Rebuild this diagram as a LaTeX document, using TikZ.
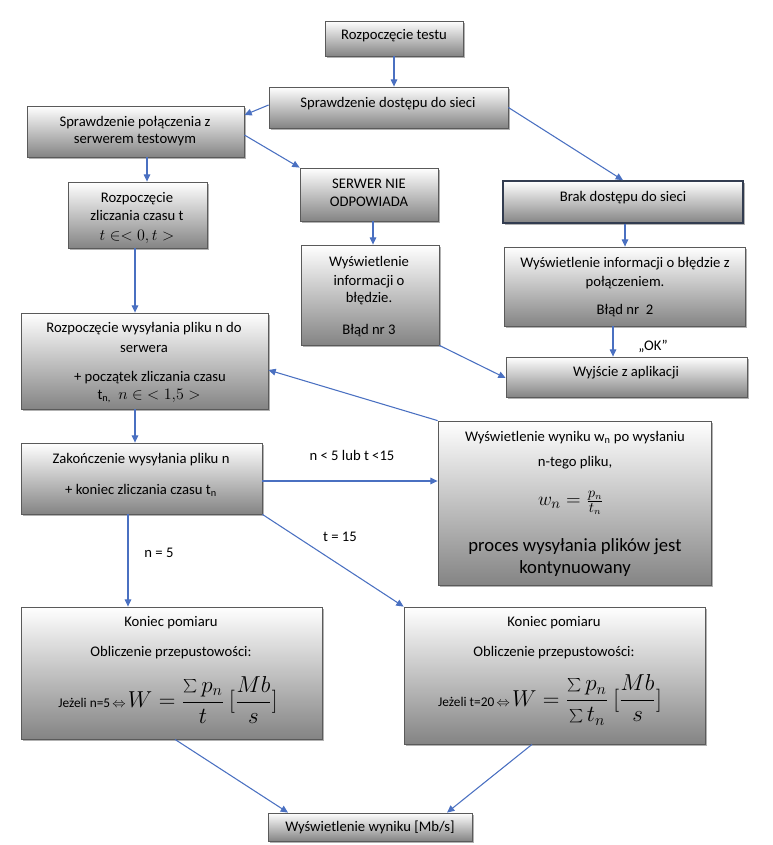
\documentclass[tikz,border=0pt]{standalone}
\usepackage{fontspec}
\setmainfont{Carlito}
\usetikzlibrary{arrows.meta,shadows,fit}
\definecolor{arrowblue}{RGB}{74,112,193}
\definecolor{boxline}{RGB}{90,90,90}
\definecolor{boxbottom}{RGB}{132,132,132}
\definecolor{boxmid}{RGB}{212,212,212}
\definecolor{darkline}{RGB}{50,60,80}
\newcommand{\mytext}[4]{\node[txt] (#1) at (#2,#3) {#4};}
\begin{document}
\begin{tikzpicture}[x=0.75pt,y=-0.75pt,
  box/.style={draw=boxline, line width=0.6pt, top color=white, middle color=boxmid,
    bottom color=boxbottom, inner sep=0pt,
    drop shadow={shadow xshift=1.2pt, shadow yshift=-1.2pt, fill=black, opacity=0.3}},
  darkbox/.style={box, draw=darkline, line width=1.1pt},
  txt/.style={font=\fontsize{11}{13}\selectfont, inner sep=0pt, text height=7pt, text depth=0pt},
  bigtxt/.style={font=\fontsize{14}{16}\selectfont, inner sep=0pt, text height=9pt, text depth=0pt},
  mtxt/.style={inner sep=0pt},
  arr/.style={draw=arrowblue, line width=0.8pt, -{Triangle[length=5.5pt,width=5pt]}}
]
\useasboundingbox (0,0) rectangle (772,845);

% boxes
\node[box, fit={(325,21) (463,56)}] (b1) {};
\node[box, fit={(269,87) (508,128)}] (b2) {};
\node[box, fit={(27,106) (244,157)}] (b3) {};
\node[box, fit={(68,182) (207,248)}] (b4) {};
\node[box, fit={(300,168) (438,221)}] (b5) {};
\node[darkbox, fit={(503,181) (743,223)}] (b6) {};
\node[box, fit={(301,245) (439,345)}] (b7) {};
\node[box, fit={(504,247) (745,326)}] (b8) {};
\node[box, fit={(506,357) (747,397)}] (b9) {};
\node[box, fit={(21,313) (268,409)}] (b10) {};
\node[box, fit={(21,443) (262,514)}] (b11) {};
\node[box, fit={(438,421) (711,585)}] (b12) {};
\node[box, fit={(21,607) (322,739)}] (b13) {};
\node[box, fit={(404,607) (705,744)}] (b14) {};
\node[box, fit={(268,813) (472,841)}] (b15) {};

% texts
\mytext{t1}{394}{35}{Rozpoczęcie testu}
\mytext{t2}{388}{103}{Sprawdzenie dostępu do sieci}
\mytext{t3a}{135}{122}{Sprawdzenie połączenia z}
\mytext{t3b}{135}{139}{serwerem testowym}
\mytext{t4a}{137}{198}{Rozpoczęcie}
\mytext{t4b}{137}{216}{zliczania czasu t}
\node[mtxt, font=\fontsize{11.5}{13}\selectfont] (t4c) at (137,237) {$t \in < 0, t >$};
\mytext{t5a}{369}{184}{SERWER NIE}
\mytext{t5b}{369}{202}{ODPOWIADA}
\mytext{t6}{623}{197}{Brak dostępu do sieci}
\mytext{t7a}{369}{262}{Wyświetlenie}
\mytext{t7b}{369}{281}{informacji o}
\mytext{t7c}{369}{298}{błędzie.}
\mytext{t7d}{369}{330}{Błąd nr 3}
\mytext{t8a}{625}{263}{Wyświetlenie informacji o błędzie z}
\mytext{t8b}{625}{282}{połączeniem.}
\mytext{t8c}{625}{310}{Błąd nr~~2}
\mytext{t9}{626}{372}{Wyjście z aplikacji}
\mytext{t10a}{144}{328}{Rozpoczęcie wysyłania pliku n do}
\mytext{t10b}{144}{348}{serwera}
\mytext{t10c}{150}{377}{+ początek zliczania czasu}
\node[mtxt, font=\fontsize{12}{14}\selectfont] (t10d) at (149,396) {{\fontsize{11}{13}\selectfont t\textsubscript{n,}}~~$n \in\; < 1{,}5 >$};
\mytext{t11a}{141}{459}{Zakończenie wysyłania pliku n}
\mytext{t11b}{141}{490}{+ koniec zliczania czasu t\textsubscript{n}}
\mytext{t12a}{575}{437}{Wyświetlenie wyniku w\textsubscript{n} po wysłaniu}
\mytext{t12b}{575}{462}{n-tego pliku,}
\node[mtxt, font=\fontsize{15}{17}\selectfont] (t12c) at (571,503) {$w_n = \frac{p_n}{t_n}$};
\node[bigtxt] (t12d) at (575,545) {proces wysyłania plików jest};
\node[bigtxt] (t12e) at (575,567) {kontynuowany};
\mytext{t13a}{171}{622}{Koniec pomiaru}
\mytext{t13b}{171}{652}{Obliczenie przepustowości:}
\node[mtxt] (t13c) at (168,700) {{\fontsize{10}{12}\selectfont Jeżeli n=5\,$\Leftrightarrow$}\,{\fontsize{16.5}{19}\selectfont$\displaystyle W = \frac{\sum p_n}{t}\ \Bigl[\frac{Mb}{s}\Bigr]$}};
\mytext{t14a}{554}{622}{Koniec pomiaru}
\mytext{t14b}{554}{652}{Obliczenie przepustowości:}
\node[mtxt] (t14c) at (550,700) {{\fontsize{10}{12}\selectfont Jeżeli t=20\,$\Leftrightarrow$}\,{\fontsize{16.5}{19}\selectfont$\displaystyle W = \frac{\sum p_n}{\sum t_n}\ \Bigl[\frac{Mb}{s}\Bigr]$}};
\mytext{t15}{370}{827}{Wyświetlenie wyniku [Mb/s]}

% connector labels
\mytext{lok}{653}{346}{„OK”}
\mytext{lnl}{352}{456}{n < 5 lub t <15}
\mytext{lt}{340}{537}{t = 15}
\mytext{ln}{159}{553}{n = 5}

% connectors
\draw[arr] (b1.south) -- (b1.south |- b2.north);
\draw[arr] (b2.west |- 0,105) -- (b3.east |- 0,115);
\draw[arr] (b2.east) -- (b6.north);
\draw[arr] (b3.east |- 0,135) -- (b5.north west);
\draw[arr] (b3.south -| 147,0) -- (b4.north -| 147,0);
\draw[arr] (b5.south -| 373,0) -- (b7.north -| 373,0);
\draw[arr] (b6.south -| 625,0) -- (b8.north -| 625,0);
\draw[arr] (b4.south -| 135,0) -- (b10.north -| 135,0);
\draw[arr] (b7.south east) -- (b9.west |- 0,378);
\draw[arr] (b8.south -| 613,0) -- (b9.north -| 613,0);
\draw[arr] (b10.south -| 135,0) -- (b11.north -| 135,0);
\draw[arr] (b11.east |- 0,481) -- (b12.west |- 0,481);
\draw[arr] (b12.north west) -- (b10.east |- 0,370);
\draw[arr] (b11.south -| 128,0) -- (b13.north -| 128,0);
\draw[arr] (b11.south east) -- (b14.north west);
\draw[arr] (b13.south -| 175,0) -- (b15.north -| 288,0);
\draw[arr] (b14.south -| 532,0) -- (b15.north -| 447,0);
\end{tikzpicture}
\end{document}
